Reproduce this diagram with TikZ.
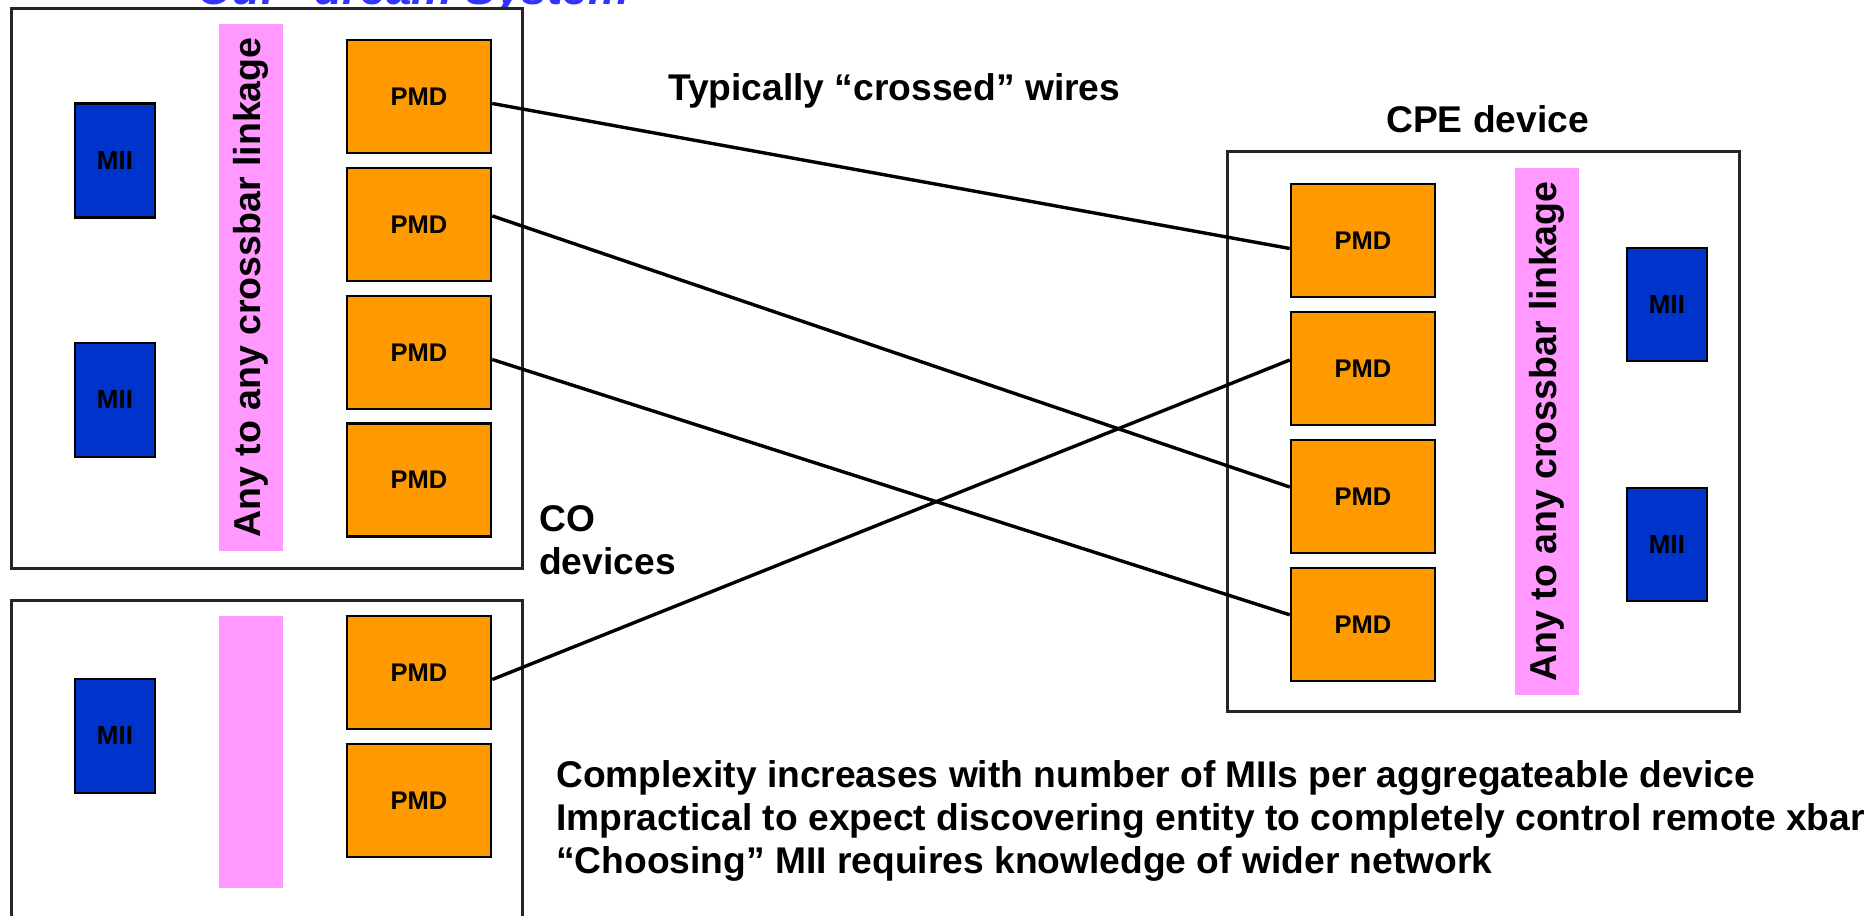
\documentclass[tikz,border=0pt]{standalone}
\usepackage{fontspec}
\setmainfont{Liberation Sans}
\definecolor{pmdorange}{HTML}{FF9900}
\definecolor{miiblue}{HTML}{0033CC}
\definecolor{xbarpink}{HTML}{FF99FF}
\definecolor{titleblue}{HTML}{3333FF}
\begin{document}
\begin{tikzpicture}[x=1pt,y=-1pt,
  devbox/.style={draw=black!85,line width=3pt,fill=white,minimum width=511pt,inner sep=0pt},
  pmdbox/.style={draw=black,line width=2.5pt,fill=pmdorange,minimum width=144pt,minimum height=113pt,
    inner sep=0pt,font=\fontsize{25.5}{30}\selectfont\bfseries},
  miibox/.style={draw=black,line width=2.5pt,fill=miiblue,minimum width=80pt,minimum height=114pt,
    inner sep=0pt,font=\fontsize{26}{30}\selectfont\bfseries},
  xbarbar/.style={fill=xbarpink,draw=none,minimum width=64pt,inner sep=0pt},
  xbartext/.style={rotate=90,inner sep=0pt,font=\fontsize{37.5}{44}\selectfont\bfseries},
  wire/.style={draw=black,line width=3.4pt},
  lbl/.style={inner sep=0pt,font=\fontsize{37.2}{44}\selectfont\bfseries},
]
\useasboundingbox (0,0) rectangle (1870,915);
\clip (0,0) rectangle (1870,915);
\fill[white] (0,0) rectangle (1870,915);

% slide title (runs off the top edge)
\node[anchor=base west,inner sep=0pt,text=titleblue,font=\fontsize{46}{54}\selectfont\bfseries\itshape]
  (title) at (197,5) {Our “dream System”};

% ---- upper CO device ----
\node[devbox,minimum height=559pt] (coA) at (266.5,288.5) {};
\node[xbarbar,minimum height=527pt] (xbarA) at (251,287.5) {};
\node[xbartext] (xbarAtxt) at (xbarA) {Any to any crossbar linkage};
\node[miibox] (miiA1) at (115,160.5) {MII};
\node[miibox] (miiA2) at (115,400) {MII};
\node[pmdbox] (pmdA1) at (419,96.5) {PMD};
\node[pmdbox] (pmdA2) at (419,224.5) {PMD};
\node[pmdbox] (pmdA3) at (419,352.5) {PMD};
\node[pmdbox] (pmdA4) at (419,480) {PMD};

% ---- lower CO device ----
\node[devbox,minimum height=340pt] (coB) at (266.5,770) {};
\node[xbarbar,minimum height=272pt] (xbarB) at (251,752) {};
\node[miibox] (miiB1) at (115,736) {MII};
\node[pmdbox] (pmdB1) at (419,672.5) {PMD};
\node[pmdbox] (pmdB2) at (419,800.5) {PMD};

% ---- CPE device ----
\node[devbox,minimum width=512pt,minimum height=560pt] (cpe) at (1483,431) {};
\node[xbarbar,minimum height=527pt] (xbarC) at (1547,431.5) {};
\node[xbartext] (xbarCtxt) at (xbarC) {Any to any crossbar linkage};
\node[miibox,minimum height=113pt] (miiC1) at (1667,304.5) {MII};
\node[miibox,minimum height=113pt] (miiC2) at (1667,544.5) {MII};
\node[pmdbox] (cpe1) at (1363,240.5) {PMD};
\node[pmdbox] (cpe2) at (1363,368.5) {PMD};
\node[pmdbox] (cpe3) at (1363,496.5) {PMD};
\node[pmdbox] (cpe4) at (1363,624.5) {PMD};

% ---- crossed wires ----
\draw[wire] ([yshift=-7pt]pmdA1.east) -- ([yshift=-8pt]cpe1.west);
\draw[wire] ([yshift=8.6pt]pmdA2.east) -- ([yshift=9.5pt]cpe3.west);
\draw[wire] ([yshift=-7pt]pmdA3.east) -- ([yshift=9.7pt]cpe4.west);
\draw[wire] ([yshift=-7pt]pmdB1.east) -- ([yshift=8.5pt]cpe2.west);

% ---- labels ----
\node[lbl,anchor=base west] (wiresLbl) at (668,101) {Typically “crossed” wires};
\node[lbl,anchor=base west] (cpeLbl) at (1386,132) {CPE device};
\node[lbl,anchor=base west] (coLbl1) at (539,531) {CO};
\node[lbl,anchor=base west] (coLbl2) at (539,574) {devices};
\node[lbl,anchor=base west] (note1) at (556,787) {Complexity increases with number of MIIs per aggregateable device};
\node[lbl,anchor=base west] (note2) at (556,830) {Impractical to expect discovering entity to completely control remote xbar};
\node[lbl,anchor=base west] (note3) at (556,873) {“Choosing” MII requires knowledge of wider network};
\end{tikzpicture}
\end{document}
